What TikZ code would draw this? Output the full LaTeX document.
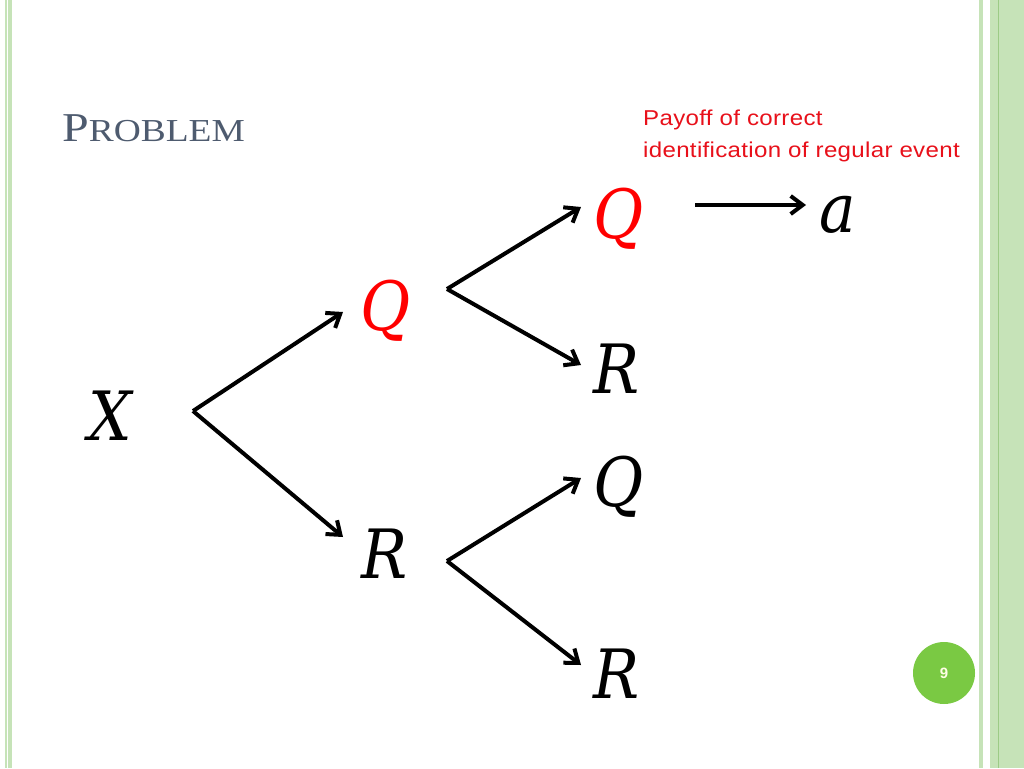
\documentclass[tikz,border=0pt]{standalone}
\usepackage{fontspec}
\setmainfont{Latin Modern Roman}
\newfontfamily\sans{Liberation Sans}
\newfontfamily\paysans[FakeStretch=1.12,LetterSpace=1.5]{Liberation Sans}
\newfontfamily\titlefont[FakeStretch=1.17]{Liberation Serif}
\newfontfamily\letterfont[FakeStretch=0.9]{DejaVu Serif}
\usetikzlibrary{arrows.meta}
\definecolor{bordergreen}{HTML}{C6E3B8}
\definecolor{borderdark}{HTML}{9CCB86}
\definecolor{dotgreen}{HTML}{7AC943}
\definecolor{titlecol}{HTML}{4E5B6F}
\definecolor{payred}{HTML}{E8101A}
\tikzset{
  letter/.style={anchor=base,inner sep=0pt,font=\letterfont\itshape\fontsize{68}{68}\selectfont},
  redletter/.style={letter,text=red},
  branch/.style={line width=4pt,-{Straight Barb[length=12pt,width=18pt,line width=4pt]}},
}
\begin{document}
\begin{tikzpicture}[x=1pt,y=-1pt]
\useasboundingbox (0,0) rectangle (1024,768);
\fill[white] (0,0) rectangle (1024,768);
% borders
\fill[bordergreen] (5,0) rectangle (12,768);
\draw[white,line width=0.8pt] (7.5,0) -- (7.5,768);
\fill[bordergreen] (979,0) rectangle (983,768);
\fill[bordergreen] (990,0) rectangle (1024,768);
\draw[borderdark,line width=0.8pt] (998.5,0) -- (998.5,768);
% title
\node[anchor=base west,inner sep=0pt,text=titlecol] (title) at (62,141)
  {\titlefont\fontsize{41}{41}\selectfont P\fontsize{32}{32}\selectfont ROBLEM};
% payoff text
\node[anchor=base west,inner sep=0pt,text=payred,align=left,
  font=\paysans\fontsize{21.5}{32}\selectfont] (pay) at (643,157)
  {Payoff of correct\\identification of regular event};
% letters
\node[letter] (X) at (110,440) {X};
\node[redletter] (Q1) at (386,330) {Q};
\node[letter] (R1) at (385,578) {R};
\node[redletter] (Q2) at (619,238) {Q};
\node[letter] (R2) at (617,393) {R};
\node[letter] (Q3) at (619,506) {Q};
\node[letter] (R3) at (617,698) {R};
\node[letter] (A) at (838,232) {a};
% junctions and tips
\coordinate (j0) at (193,411);
\coordinate (t1) at (343,312);
\coordinate (t2) at (343,537);
\coordinate (j1) at (447,289);
\coordinate (t3) at (581,207);
\coordinate (t4) at (581,365);
\coordinate (j2) at (447,561);
\coordinate (t5) at (581,478);
\coordinate (t6) at (581,665);
\coordinate (s7) at (695,205);
\coordinate (t7) at (806,205);
\draw[branch] (j0) -- (t1);
\draw[branch] (j0) -- (t2);
\draw[branch] (j1) -- (t3);
\draw[branch] (j1) -- (t4);
\draw[branch] (j2) -- (t5);
\draw[branch] (j2) -- (t6);
\draw[branch] (s7) -- (t7);
% page number
\node[circle,fill=dotgreen,minimum size=62pt,inner sep=0pt,text=white!90!yellow,font=\sans\bfseries\fontsize{15}{15}\selectfont] (pg) at (944,673) {9};
\end{tikzpicture}
\end{document}
